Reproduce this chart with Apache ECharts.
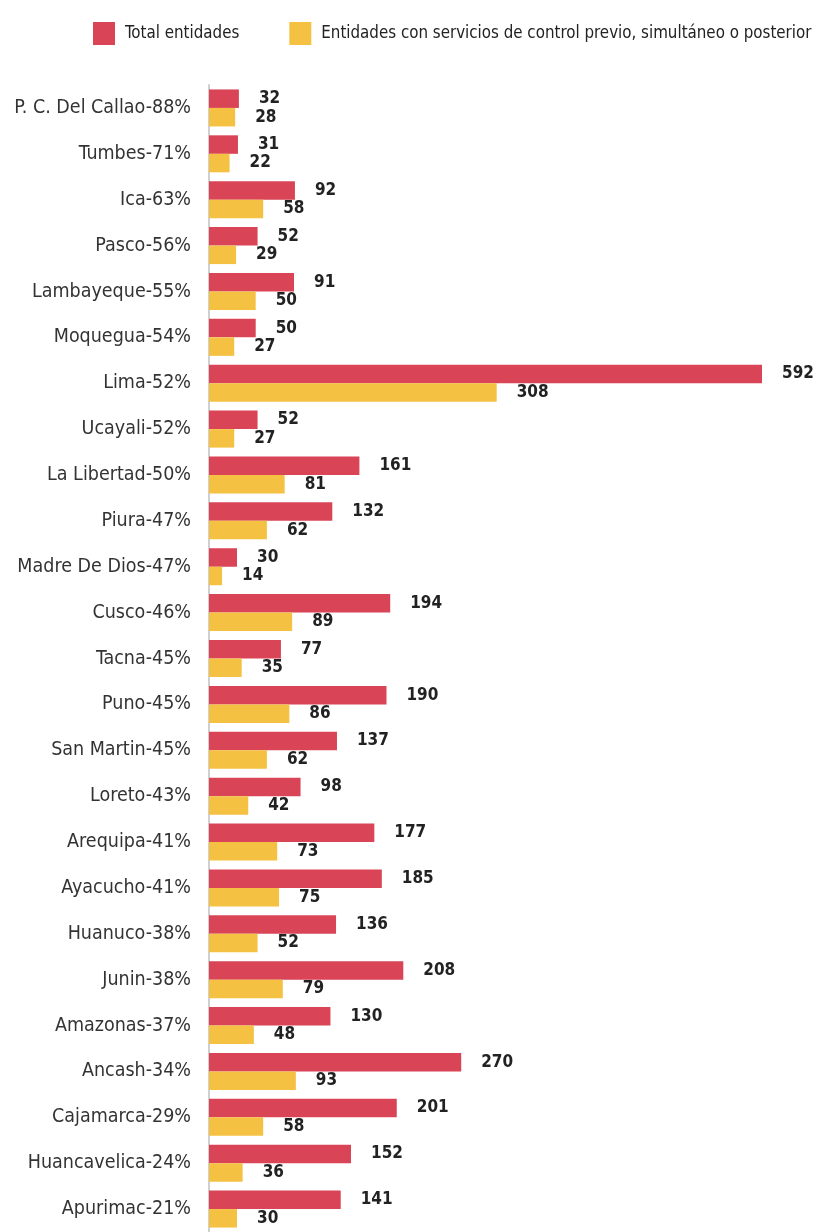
<!DOCTYPE html>
<html>
<head>
<meta charset="utf-8">
<script src="https://cdn.jsdelivr.net/npm/echarts@6/dist/echarts.min.js"></script>
<style>
  html, body { margin: 0; padding: 0; background: #fff; }
  #chart { width: 817px; height: 1232px; }
</style>
</head>
<body>
<div id="chart"></div>
<script>
// regiones con % de entidades con servicios de control
var regiones = [
  'P. C. Del Callao-88%', 'Tumbes-71%', 'Ica-63%', 'Pasco-56%', 'Lambayeque-55%',
  'Moquegua-54%', 'Lima-52%', 'Ucayali-52%', 'La Libertad-50%', 'Piura-47%',
  'Madre De Dios-47%', 'Cusco-46%', 'Tacna-45%', 'Puno-45%', 'San Martin-45%',
  'Loreto-43%', 'Arequipa-41%', 'Ayacucho-41%', 'Huanuco-38%', 'Junin-38%',
  'Amazonas-37%', 'Ancash-34%', 'Cajamarca-29%', 'Huancavelica-24%', 'Apurimac-21%'
];
var totalEntidades = [32, 31, 92, 52, 91, 50, 592, 52, 161, 132, 30, 194, 77, 190, 137,
  98, 177, 185, 136, 208, 130, 270, 201, 152, 141];
var conServicios = [28, 22, 58, 29, 50, 27, 308, 27, 81, 62, 14, 89, 35, 86, 62,
  42, 73, 75, 52, 79, 48, 93, 58, 36, 30];

var fuente = '"DejaVu Sans Condensed", "Noto Sans", sans-serif';

var chart = echarts.init(document.getElementById('chart'));

var etiqueta = {
  show: true,
  position: 'right',
  distance: 20,
  color: '#222',
  fontFamily: fuente,
  fontWeight: 'bold',
  fontSize: 17
};

var option = {
  animation: false,
  backgroundColor: '#fff',
  legend: {
    left: 88,
    top: 17,
    width: 760,
    orient: 'horizontal',
    itemWidth: 22,
    itemHeight: 23,
    itemGap: 50,
    icon: 'rect',
    textStyle: {
      fontFamily: fuente,
      fontSize: 16.8,
      color: '#222',
      padding: [0, 0, 0, 5]
    },
    data: ['Total entidades', 'Entidades con servicios de control previo, simultáneo o posterior']
  },
  grid: {
    left: 209,
    top: 85,
    width: 553,
    height: 1152,
    containLabel: false
  },
  xAxis: {
    type: 'value',
    min: 0,
    max: 592,
    show: false
  },
  yAxis: {
    type: 'category',
    inverse: true,
    data: regiones,
    axisLine: { show: true, lineStyle: { color: '#d0d0d0', width: 2 } },
    axisTick: { show: false },
    axisLabel: {
      margin: 18,
      color: '#333',
      fontFamily: fuente,
      fontSize: 19.5
    }
  },
  series: [
    {
      name: 'Total entidades',
      type: 'bar',
      data: totalEntidades,
      barWidth: 18.5,
      barGap: '0%',
      itemStyle: { color: '#d94456' },
      label: etiqueta
    },
    {
      name: 'Entidades con servicios de control previo, simultáneo o posterior',
      type: 'bar',
      data: conServicios,
      barWidth: 18.5,
      itemStyle: { color: '#f4c142' },
      label: etiqueta
    }
  ]
};

chart.setOption(option);
</script>
</body>
</html>
